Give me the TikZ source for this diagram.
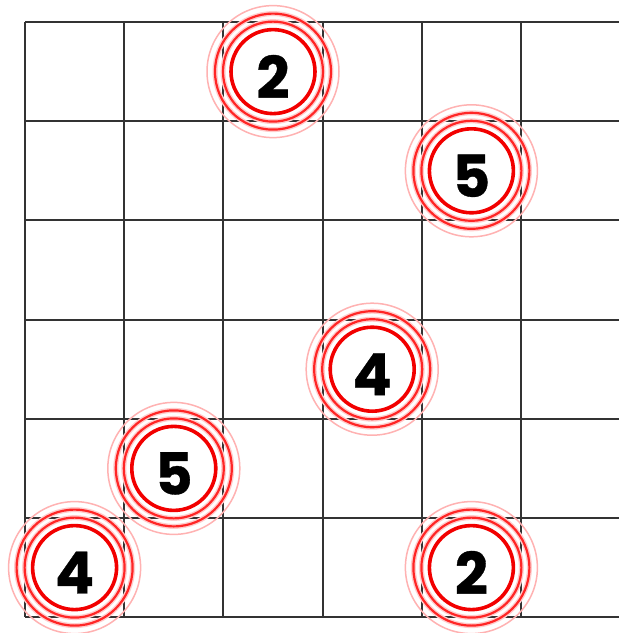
\documentclass[tikz,border=0pt]{standalone}
\usepackage{fontspec}
\newfontfamily\digitfont{Poppins}[BoldFeatures={FakeBold=0.6}]
\tikzset{
  gridline/.style={draw=black!80, line width=1.9pt},
  digit/.style={font=\digitfont\bfseries\fontsize{58}{58}\selectfont, text=black, inner sep=0pt},
  ringA/.style={draw=red!30, line width=1.5pt},
  ringB/.style={draw=red!85, line width=2.2pt},
  ringhalo/.style={draw=red!20, line width=5pt},
  ringC/.style={draw=red!95!black, line width=3.6pt},
  innerfill/.style={fill=white, draw=none}
}
\begin{document}
\begin{tikzpicture}[x=1pt,y=-1pt]
\useasboundingbox (0,0) rectangle (619,633);
\fill[white] (0,0) rectangle (619,633);
% grid
\foreach \k in {0,...,6} {
  \draw[gridline] (25,{22+99.2*\k}) -- (619,{22+99.2*\k});
}
\foreach \k in {0,...,5} {
  \draw[gridline] ({25+99.2*\k},22) -- ({25+99.2*\k},617);
}
% targets
\foreach \cx/\cy/\nm/\val in {273/71.6/a/2, 471.4/170.8/b/5, 372.2/369.2/c/4, 173.8/468.4/d/5, 74.6/567.6/e/4, 471.4/567.6/f/2} {
  \fill[innerfill] (\cx,\cy) circle (41);
  \draw[ringhalo] (\cx,\cy) circle (58);
  \draw[ringhalo] (\cx,\cy) circle (50);
  \draw[ringA] (\cx,\cy) circle (66);
  \draw[ringB] (\cx,\cy) circle (58);
  \draw[ringB] (\cx,\cy) circle (50);
  \draw[ringC] (\cx,\cy) circle (42);
  \node[digit] (\nm) at (\cx,\cy+5) {\val};
}
\end{tikzpicture}
\end{document}
